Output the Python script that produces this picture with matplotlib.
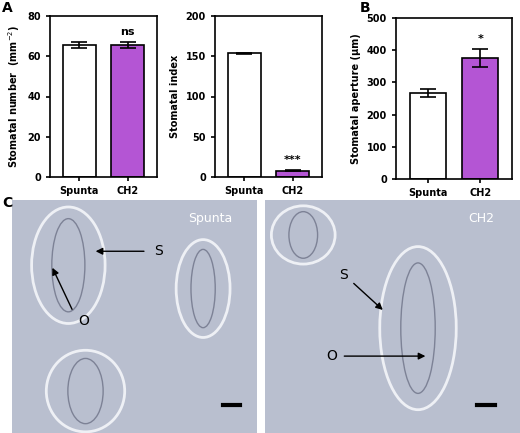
import matplotlib
matplotlib.use("Agg")
import matplotlib.pyplot as plt
from matplotlib.patches import Ellipse

W, H = 520, 433
fig = plt.figure(figsize=(5.2, 4.33), dpi=100)

cats = ["Spunta", "CH2"]
num_vals = [65.5, 65.8]; num_err = [1.5, 1.5]
idx_vals = [154.0, 8.0]; idx_err = [0.6, 1.0]
ap_vals = [268.0, 376.0]; ap_err = [13.0, 28.0]
purple = "#b455d4"

def ax_px(x0, y0, x1, y1):
    return fig.add_axes([x0 / W, 1 - y1 / H, (x1 - x0) / W, (y1 - y0) / H])

def bars(ax, vals, errs, ymax, step, ylabel, sig):
    ax.bar([0, 1], vals, width=0.68, color=["white", purple], edgecolor="black", linewidth=1.2)
    ax.errorbar([0, 1], vals, yerr=errs, fmt="none", ecolor="black", capsize=6, elinewidth=1.2, capthick=1.2)
    ax.set_xlim(-0.6, 1.6); ax.set_ylim(0, ymax)
    ax.set_yticks(range(0, ymax + 1, step))
    ax.set_xticks([0, 1]); ax.set_xticklabels(cats, fontsize=7, fontweight="bold")
    ax.tick_params(labelsize=7, width=1.2, length=3)
    for t in ax.get_yticklabels(): t.set_fontweight("bold")
    for s in ax.spines.values(): s.set_linewidth(1.2)
    ax.set_ylabel(ylabel, fontsize=7, fontweight="bold")
    ax.text(1, vals[1] + errs[1] + ymax * 0.03, sig, ha="center", va="bottom", fontsize=8, fontweight="bold")

a1 = ax_px(50, 16, 157, 177)
bars(a1, num_vals, num_err, 80, 20, "Stomatal number  (mm$^{-2}$)", "ns")
a2 = ax_px(215, 16, 322, 177)
bars(a2, idx_vals, idx_err, 200, 50, "Stomatal index", "***")
a3 = ax_px(396, 18, 512, 179)
bars(a3, ap_vals, ap_err, 500, 100, "Stomatal aperture (µm)", "*")

fig.text(2 / W, 1 - 8 / H, "A", fontsize=10, fontweight="bold", va="center")
fig.text(360 / W, 1 - 8 / H, "B", fontsize=10, fontweight="bold", va="center")
fig.text(2 / W, 1 - 203 / H, "C", fontsize=10, fontweight="bold", va="center")

def micro(x0, x1, label, stoma, arrows, bar_x):
    ax = ax_px(x0, 200, x1, 433)
    ax.set_xlim(0, 1); ax.set_ylim(0, 1)
    ax.set_facecolor("#b9bfcf")
    ax.set_xticks([]); ax.set_yticks([])
    for s in ax.spines.values(): s.set_visible(False)
    for (cx, cy, w, h) in stoma:
        ax.add_patch(Ellipse((cx, cy), w, h, fill=False, ec="#eef0f5", lw=2))
        ax.add_patch(Ellipse((cx, cy), w * 0.45, h * 0.8, fill=False, ec="#7d8296", lw=1))
    ax.text(0.9, 0.92, label, color="white", fontsize=9, ha="right", va="center")
    for (txt, tx, ty, hx, hy) in arrows:
        ax.annotate("", xy=(hx, hy), xytext=(tx, ty),
                    arrowprops=dict(arrowstyle="-|>", color="black", lw=1))
    ax.plot([bar_x, bar_x + 0.07], [0.12, 0.12], color="black", lw=3)
    return ax

m1 = micro(12, 257, "Spunta",
           [(0.23, 0.72, 0.3, 0.5), (0.78, 0.62, 0.22, 0.42), (0.3, 0.18, 0.32, 0.35)],
           [("S", 0.55, 0.78, 0.33, 0.78), ("O", 0.25, 0.52, 0.16, 0.72)], 0.86)
m1.text(0.58, 0.78, "S", fontsize=10, va="center")
m1.text(0.27, 0.48, "O", fontsize=10, va="center")

m2 = micro(265, 520, "CH2",
           [(0.6, 0.45, 0.3, 0.7), (0.15, 0.85, 0.25, 0.25)],
           [("S", 0.34, 0.65, 0.47, 0.52), ("O", 0.3, 0.33, 0.64, 0.33)], 0.83)
m2.text(0.29, 0.68, "S", fontsize=10, va="center")
m2.text(0.24, 0.33, "O", fontsize=10, va="center")

fig.savefig("out.png", dpi=100)
